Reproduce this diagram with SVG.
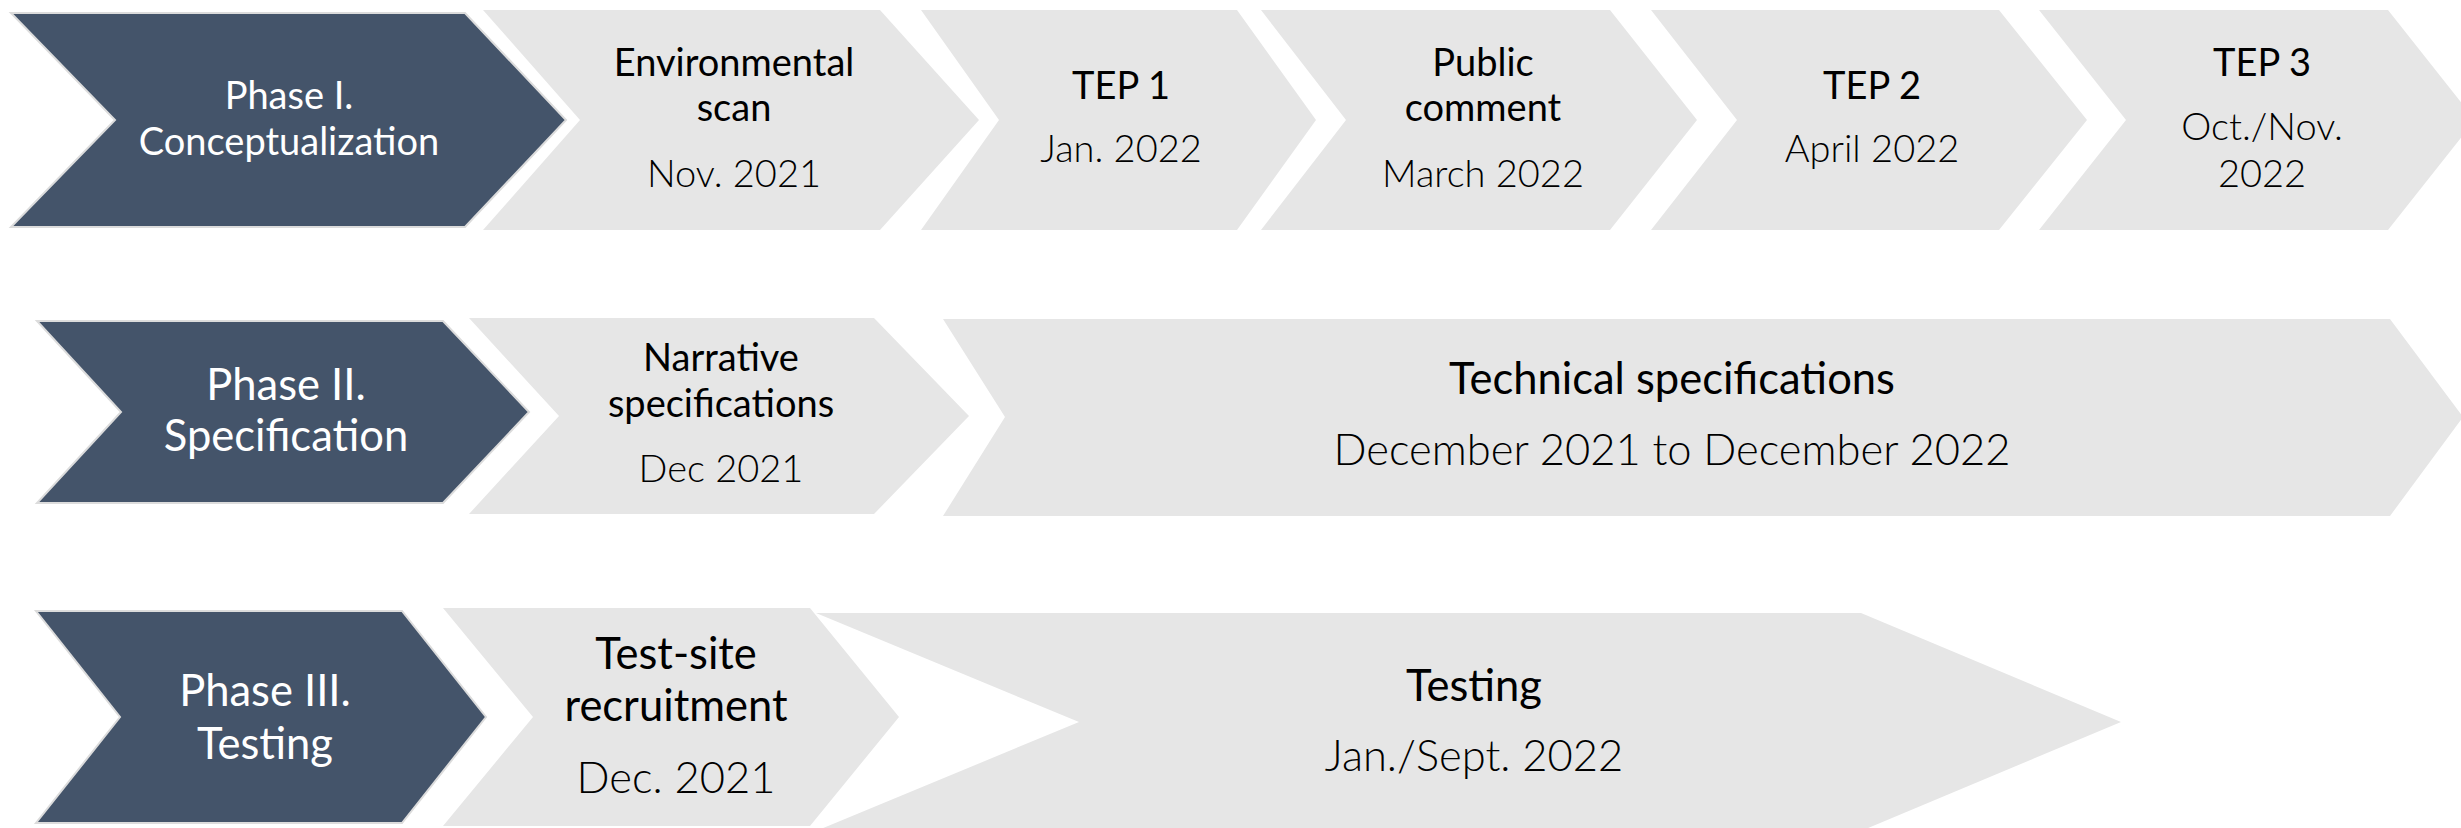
<svg xmlns="http://www.w3.org/2000/svg" width="2461" height="828" viewBox="0 0 2461 828">
<style>
.dark{fill:#44546A;stroke:#DCDCDC;stroke-width:2}
.light{fill:#E6E6E6}
text{font-family:Lato,"Liberation Sans",sans-serif;text-anchor:middle}
.ph{fill:#FFFFFF;font-weight:400}
.tt{fill:#000000;font-weight:400}
.dt{fill:#000000;font-weight:300}
.s1{font-size:38px}
.s2{font-size:43.5px}
</style>
<rect width="2461" height="828" fill="#FFFFFF"/>
<!-- Row 1 -->
<g id="phase1">
<polygon class="dark" points="11,13 465,13 566,120 465,227 11,227 115,120"/>
<text class="ph s1" x="289" y="109">Phase I.</text>
<text class="ph s1" x="289" y="155">Conceptualization</text>
</g>
<g id="env-scan">
<polygon class="light" points="483,10 880,10 979,120 880,230 483,230 580,120"/>
<text class="tt s1" x="734" y="76">Environmental</text>
<text class="tt s1" x="734" y="121">scan</text>
<text class="dt s1" x="734" y="187">Nov. 2021</text>
</g>
<g id="tep1">
<polygon class="light" points="921,10 1237,10 1316,120 1237,230 921,230 999,120"/>
<text class="tt s1" x="1121" y="99">TEP 1</text>
<text class="dt s1" x="1121" y="162">Jan. 2022</text>
</g>
<g id="public-comment">
<polygon class="light" points="1261,10 1610,10 1697,120 1610,230 1261,230 1346,120"/>
<text class="tt s1" x="1483" y="76">Public</text>
<text class="tt s1" x="1483" y="121">comment</text>
<text class="dt s1" x="1483" y="187">March 2022</text>
</g>
<g id="tep2">
<polygon class="light" points="1651,10 1999,10 2087,120 1999,230 1651,230 1737,120"/>
<text class="tt s1" x="1872" y="99">TEP 2</text>
<text class="dt s1" x="1872" y="162">April 2022</text>
</g>
<g id="tep3">
<polygon class="light" points="2039,10 2388,10 2475,120 2388,230 2039,230 2126,120"/>
<text class="tt s1" x="2262" y="76">TEP 3</text>
<text class="dt s1" x="2262" y="140">Oct./Nov.</text>
<text class="dt s1" x="2262" y="187">2022</text>
</g>
<!-- Row 2 -->
<g id="phase2">
<polygon class="dark" points="37,321 443,321 529,412 443,503 37,503 121,412"/>
<text class="ph s2" x="286" y="400">Phase II.</text>
<text class="ph s2" x="286" y="451">Specification</text>
</g>
<g id="narrative-spec">
<polygon class="light" points="469,318 874,318 969,416 874,514 469,514 559,416"/>
<text class="tt s1" x="721" y="371">Narrative</text>
<text class="tt s1" x="721" y="417">specifications</text>
<text class="dt s1" x="721" y="482">Dec 2021</text>
</g>
<g id="technical-spec">
<polygon class="light" points="943,319 2390,319 2463,417 2390,516 943,516 1005,417"/>
<text class="tt s2" x="1672" y="394">Technical specifications</text>
<text class="dt s2" x="1672" y="465">December 2021 to December 2022</text>
</g>
<!-- Row 3 -->
<g id="phase3">
<polygon class="dark" points="36,611 402,611 486,717 402,823 36,823 120,717"/>
<text class="ph s2" x="265" y="706">Phase III.</text>
<text class="ph s2" x="265" y="759">Testing</text>
</g>
<g id="test-site">
<polygon class="light" points="443,608 810,608 899,717 810,826 443,826 533,717"/>
<text class="tt s2" x="676" y="669">Test-site</text>
<text class="tt s2" x="676" y="721">recruitment</text>
<text class="dt s2" x="676" y="793">Dec. 2021</text>
</g>
<g id="testing">
<polygon class="light" points="816,613 1861,613 2121,722 1861,831 816,831 1079,722"/>
<text class="tt s2" x="1474" y="701">Testing</text>
<text class="dt s2" x="1474" y="771">Jan./Sept. 2022</text>
</g>
</svg>
